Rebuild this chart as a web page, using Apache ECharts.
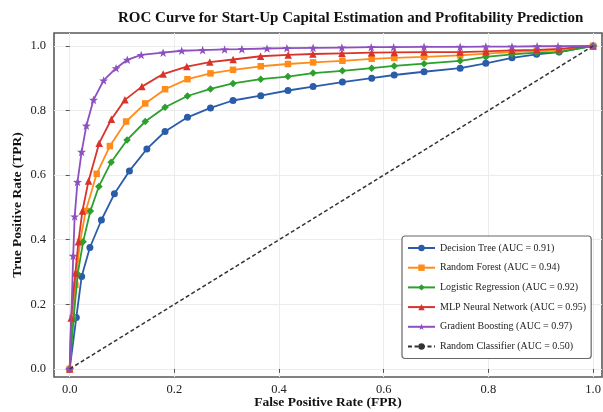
<!DOCTYPE html>
<html>
<head>
<meta charset="utf-8">
<script src="https://cdn.jsdelivr.net/npm/echarts@6/dist/echarts.min.js"></script>
<style>
html,body{margin:0;padding:0;background:#fff;}
#chart{width:603px;height:412px;}
</style>
</head>
<body>
<div id="chart"></div>
<script>
// ---- Data ----
const seriesNames = [
  'Decision Tree (AUC = 0.91)',
  'Random Forest (AUC = 0.94)',
  'Logistic Regression (AUC = 0.92)',
  'MLP Neural Network (AUC = 0.95)',
  'Gradient Boosting (AUC = 0.97)',
  'Random Classifier (AUC = 0.50)'
];

const fprDT = [0, 0.0126, 0.0228, 0.0386, 0.0606, 0.0854, 0.1141, 0.1474, 0.1822, 0.225, 0.269, 0.312, 0.365, 0.417, 0.465, 0.521, 0.577, 0.620, 0.677, 0.746, 0.795, 0.845, 0.892, 0.935, 1.0];
const tprDT = [0, 0.159, 0.286, 0.376, 0.461, 0.542, 0.613, 0.681, 0.735, 0.779, 0.808, 0.831, 0.846, 0.862, 0.874, 0.888, 0.900, 0.910, 0.920, 0.931, 0.946, 0.963, 0.974, 0.981, 1.0];

const fprRF = [0, 0.0054, 0.0108, 0.0198, 0.0306, 0.0516, 0.0767, 0.1078, 0.1443, 0.1822, 0.225, 0.269, 0.312, 0.365, 0.417, 0.465, 0.521, 0.577, 0.620, 0.677, 0.746, 0.795, 0.845, 0.892, 0.935, 1.0];
const tprRF = [0, 0.158, 0.26, 0.394, 0.489, 0.604, 0.690, 0.766, 0.822, 0.866, 0.897, 0.915, 0.926, 0.937, 0.944, 0.949, 0.954, 0.960, 0.963, 0.966, 0.971, 0.976, 0.981, 0.985, 0.988, 1.0];

const fprLR = [0, 0.0072, 0.0153, 0.0257, 0.0395, 0.0557, 0.0791, 0.1096, 0.1443, 0.1822, 0.225, 0.269, 0.312, 0.365, 0.417, 0.465, 0.521, 0.577, 0.620, 0.677, 0.746, 0.795, 0.845, 0.892, 0.935, 1.0];
const tprLR = [0, 0.152, 0.294, 0.394, 0.489, 0.565, 0.640, 0.709, 0.766, 0.810, 0.845, 0.867, 0.884, 0.897, 0.905, 0.916, 0.923, 0.931, 0.938, 0.945, 0.954, 0.966, 0.974, 0.979, 0.981, 1.0];

const fprMLP = [0, 0.0027, 0.0108, 0.0167, 0.0243, 0.036, 0.0563, 0.0796, 0.1055, 0.1379, 0.1785, 0.2237, 0.2677, 0.3122, 0.3646, 0.4174, 0.4646, 0.5201, 0.5769, 0.6201, 0.6769, 0.7457, 0.7954, 0.8451, 0.8924, 0.935, 1.0];
const tprMLP = [0, 0.158, 0.297, 0.394, 0.489, 0.582, 0.699, 0.773, 0.833, 0.874, 0.913, 0.936, 0.950, 0.958, 0.968, 0.972, 0.975, 0.977, 0.979, 0.980, 0.981, 0.981, 0.983, 0.986, 0.988, 0.991, 1.0];

const fprGB = [0, 0.0067, 0.0095, 0.0149, 0.0228, 0.0318, 0.0455, 0.0647, 0.0886, 0.110, 0.1366, 0.1785, 0.214, 0.254, 0.296, 0.329, 0.377, 0.415, 0.465, 0.520, 0.576, 0.619, 0.677, 0.746, 0.795, 0.845, 0.893, 0.933, 1.0];
const tprGB = [0, 0.350, 0.472, 0.579, 0.672, 0.753, 0.833, 0.893, 0.931, 0.957, 0.972, 0.979, 0.985, 0.987, 0.989, 0.990, 0.992, 0.993, 0.994, 0.995, 0.996, 0.996, 0.997, 0.997, 0.998, 0.998, 0.999, 0.999, 1.0];

const fprRandom = [0, 1];
const tprRandom = [0, 1];

const tickValues = [0, 0.2, 0.4, 0.6, 0.8, 1.0];

// ---- Chart ----
const colors = ['#2a5caa', '#ff8c1a', '#2ca02c', '#d9342b', '#8e4fc0', '#333333'];
const starPath = 'path://M50,0 L61.8,33.8 L97.6,34.5 L69,56.2 L79.4,90.5 L50,70 L20.6,90.5 L31,56.2 L2.4,34.5 L38.2,33.8 Z';

function zip(xs, ys) { return xs.map((x, i) => [x, ys[i]]); }

const curveDefs = [
  { x: fprDT, y: tprDT, symbol: 'circle', size: 7 },
  { x: fprRF, y: tprRF, symbol: 'rect', size: 6.5 },
  { x: fprLR, y: tprLR, symbol: 'diamond', size: 7.5 },
  { x: fprMLP, y: tprMLP, symbol: 'triangle', size: 7.5 },
  { x: fprGB, y: tprGB, symbol: starPath, size: 9 }
];

const serif = '"Liberation Serif", "DejaVu Serif", serif';

const series = curveDefs.map((d, i) => ({
  name: seriesNames[i],
  type: 'line',
  data: zip(d.x, d.y),
  symbol: d.symbol,
  symbolSize: d.size,
  symbolKeepAspect: true,
  showAllSymbol: true,
  lineStyle: { width: 1.8, color: colors[i] },
  itemStyle: { color: colors[i] },
  emphasis: { disabled: true },
  animation: false,
  z: 3 + i
}));
series.push({
  name: seriesNames[5],
  type: 'line',
  data: zip(fprRandom, tprRandom),
  symbol: 'none',
  lineStyle: { width: 1.5, color: colors[5], type: [4, 2.5] },
  itemStyle: { color: colors[5] },
  animation: false,
  z: 9
});

const chart = echarts.init(document.getElementById('chart'), null, { renderer: 'canvas' });
chart.setOption({
  backgroundColor: '#ffffff',
  animation: false,
  title: {
    text: 'ROC Curve for Start-Up Capital Estimation and Profitability Prediction',
    left: 113,
    top: 6,
    textStyle: { fontFamily: serif, fontWeight: 'bold', fontSize: 15, color: '#111' }
  },
  grid: {
    left: 54, top: 33, right: 1, bottom: 35,
    show: true, borderColor: '#5a5a5a', borderWidth: 1.6, backgroundColor: '#fff',
    containLabel: false,
    outerBoundsMode: 'none'
  },
  legend: {
    orient: 'vertical',
    left: 402, top: 236,
    itemWidth: 27, itemHeight: 8, itemGap: 6.7,
    padding: [5.5, 5, 5.5, 5],
    backgroundColor: '#fff',
    borderColor: '#666', borderWidth: 1.2, borderRadius: 3,
    textStyle: { fontFamily: serif, fontSize: 10, color: '#222', lineHeight: 13 },
    data: seriesNames
  },
  xAxis: {
    type: 'value',
    min: -0.03, max: 1.017,
    name: 'False Positive Rate (FPR)',
    nameLocation: 'middle', nameGap: 19, nameMoveOverlap: false,
    nameTextStyle: { fontFamily: serif, fontWeight: 'bold', fontSize: 13.5, color: '#111' },
    axisLine: { show: false },
    axisTick: { show: true, inside: false, length: 4, customValues: tickValues, lineStyle: { color: '#555' } },
    axisLabel: { customValues: tickValues, margin: 6, fontFamily: serif, fontSize: 12.5, color: '#222',
      formatter: v => v.toFixed(1) },
    splitLine: { show: true, lineStyle: { color: '#ececec', width: 1 } }
  },
  yAxis: {
    type: 'value',
    min: -0.025, max: 1.04,
    name: 'True Positive Rate (TPR)',
    nameLocation: 'middle', nameGap: 29, nameMoveOverlap: false,
    nameTextStyle: { fontFamily: serif, fontWeight: 'bold', fontSize: 13.5, color: '#111' },
    axisLine: { show: false },
    axisTick: { show: true, inside: false, length: 4, customValues: tickValues, lineStyle: { color: '#555' } },
    axisLabel: { customValues: tickValues, margin: 8, fontFamily: serif, fontSize: 12.5, color: '#222',
      formatter: v => v.toFixed(1) },
    splitLine: { show: true, lineStyle: { color: '#ececec', width: 1 } }
  },
  series: series
});
</script>
</body>
</html>
